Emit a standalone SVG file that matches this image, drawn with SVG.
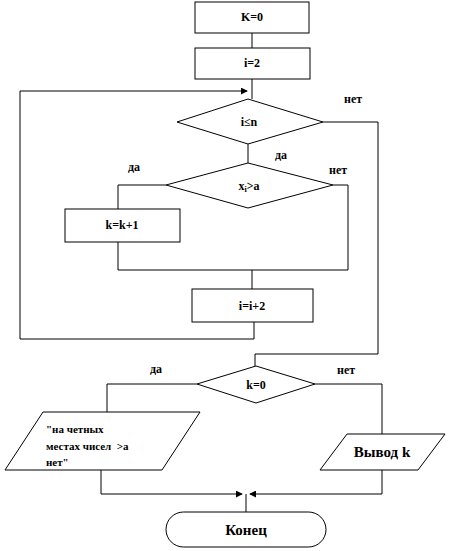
<svg xmlns="http://www.w3.org/2000/svg" width="450" height="551" viewBox="0 0 450 551">
<style>
.s{fill:#fff;stroke:#000;stroke-width:1}
.c{fill:none;stroke:#000;stroke-width:1}
text{font-family:"Liberation Serif","Times New Roman",serif;font-weight:bold;font-size:12px;fill:#000}
.m{text-anchor:middle}
.b{font-size:15px}
.p{font-size:11px}
</style>
<defs>
<marker id="a" viewBox="0 0 8 8" refX="7" refY="4" markerWidth="7" markerHeight="7" orient="auto" markerUnits="userSpaceOnUse">
<path d="M0,0 L8,4 L0,8 z" fill="#000"/>
</marker>
</defs>
<g id="connectors">
<path class="c" d="M252,33 V48"/>
<path class="c" d="M252,79 V99"/>
<path class="c" d="M20,91 V339 H254 V322" />
<path class="c" d="M20,91 H247" marker-end="url(#a)"/>
<path class="c" d="M248,144 V163"/>
<path class="c" d="M166,185 H118 V209"/>
<path class="c" d="M333,185 H348 V270 H118 V242"/>
<path class="c" d="M252,270 V289"/>
<path class="c" d="M323,122 H378 V354 H255 V366"/>
<path class="c" d="M197,384 H107 V412"/>
<path class="c" d="M315,384 H382 V434"/>
<path class="c" d="M101,470 V494 H242" marker-end="url(#a)"/>
<path class="c" d="M382,470 V494 H250" marker-end="url(#a)"/>
<path class="c" d="M246,494 V512"/>
</g>
<g id="n1"><rect class="s" x="195" y="2" width="114" height="31"/><text class="m" x="252" y="21">K=0</text></g>
<g id="n2"><rect class="s" x="195" y="48" width="115" height="31"/><text class="m" x="252" y="67">i=2</text></g>
<g id="n3"><polygon class="s" points="177,122 248,99 323,122 248,144"/><text class="m" x="249" y="126">i≤n</text></g>
<g id="n4"><polygon class="s" points="166,185 248,163 333,185 248,208"/><text class="m" x="249" y="190">x<tspan font-size="8" dy="2">i</tspan><tspan dy="-2">&gt;a</tspan></text></g>
<g id="n5"><rect class="s" x="65" y="209" width="115" height="33"/><text class="m" x="122" y="229">k=k+1</text></g>
<g id="n6"><rect class="s" x="192" y="289" width="121" height="33"/><text class="m" x="252" y="310">i=i+2</text></g>
<g id="n7"><polygon class="s" points="197,384 256,366 315,384 256,403"/><text class="m" x="256" y="389">k=0</text></g>
<g id="n8"><polygon class="s" points="43,412 200,412 162,470 5,470"/>
<text class="p" x="46" y="433">"на четных</text><text class="p" x="46" y="450" xml:space="preserve">местах чисел  &gt;а</text><text class="p" x="46" y="466">нет"</text></g>
<g id="n9"><polygon class="s" points="347,434 445,434 418,470 320,470"/><text class="m b" x="382" y="457">Вывод k</text></g>
<g id="n10"><rect class="s" x="166" y="512" width="160" height="35" rx="17.5"/><text class="m b" x="246" y="535">Конец</text></g>
<g id="labels">
<text x="344" y="103">нет</text>
<text x="275" y="159">да</text>
<text x="128" y="171">да</text>
<text x="329" y="174">нет</text>
<text x="150" y="373">да</text>
<text x="337" y="374">нет</text>
</g>
</svg>
